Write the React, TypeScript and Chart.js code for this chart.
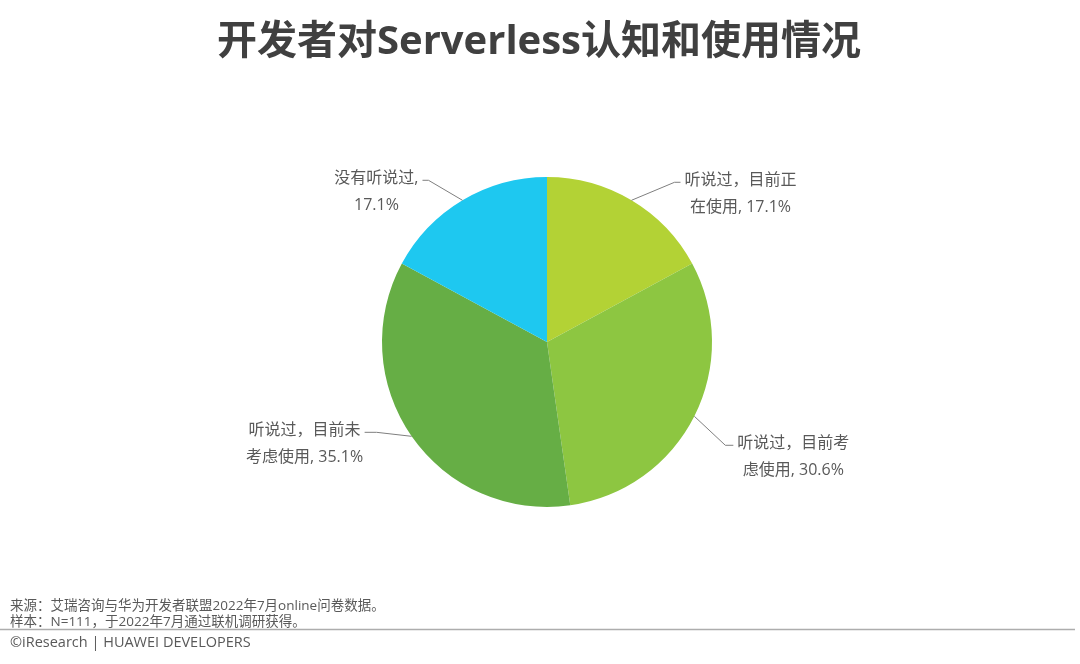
import React, { useEffect, useRef } from "react";
import { Chart, registerables } from "chart.js";

Chart.register(...registerables);

const titleText = "开发者对Serverless认知和使用情况";
const categories = ["听说过，目前正在使用", "听说过，目前考虑使用", "听说过，目前未考虑使用", "没有听说过"];
const values = [17.1, 30.6, 35.1, 17.1];
const colors = ["#B3D235", "#8DC641", "#66AE45", "#1EC8F0"];
const labelFirstLines = ["听说过，目前正", "听说过，目前考", "听说过，目前未", "没有听说过,"];
const labelSecondPrefixes = ["在使用, ", "虑使用, ", "考虑使用, ", ""];
const footerLines = [
  "来源：艾瑞咨询与华为开发者联盟2022年7月online问卷数据。",
  "样本：N=111，于2022年7月通过联机调研获得。",
];
const copyrightText = "©iResearch | HUAWEI DEVELOPERS";

// leader-line layout (offsets from the slice edge)
const labelLayout = [
  { dx: 43, dy: -18, run: 6, side: 1 },
  { dx: 31, dy: 29, run: 8, side: 1 },
  { dx: -35, dy: -4, run: 12, side: -1 },
  { dx: -34, dy: -20, run: 6, side: -1 },
];

const FONT = "'Open Sans', 'Noto Sans CJK SC', sans-serif";

const decorPlugin = {
  id: "decor",
  afterDatasetsDraw(chart: any) {
    const ctx = chart.ctx as CanvasRenderingContext2D;
    const meta = chart.getDatasetMeta(0);
    ctx.save();
    // title
    ctx.fillStyle = "#404040";
    ctx.font = `bold 40px ${FONT}`;
    ctx.textAlign = "center";
    ctx.textBaseline = "middle";
    ctx.fillText(titleText, 539, 43);

    // labels
    meta.data.forEach((arc: any, i: number) => {
      const p = arc.getProps(["x", "y", "startAngle", "endAngle", "outerRadius"], true);
      const mid = (p.startAngle + p.endAngle) / 2;
      const ex = p.x + Math.cos(mid) * p.outerRadius;
      const ey = p.y + Math.sin(mid) * p.outerRadius;
      const L = labelLayout[i];
      const bx = ex + L.dx;
      const by = ey + L.dy;
      const hx = bx + L.side * L.run;
      ctx.strokeStyle = "#7F7F7F";
      ctx.lineWidth = 1;
      ctx.beginPath();
      ctx.moveTo(ex, ey);
      ctx.lineTo(bx, by);
      ctx.lineTo(hx, by);
      ctx.stroke();

      ctx.font = `16px ${FONT}`;
      ctx.fillStyle = "#595959";
      ctx.textBaseline = "middle";
      ctx.textAlign = "center";
      const l1 = labelFirstLines[i];
      const l2 = labelSecondPrefixes[i] + values[i].toFixed(1) + "%";
      const w1 = ctx.measureText(l1).width;
      const cx = L.side > 0 ? hx + 4 + w1 / 2 : hx - 4 - w1 / 2;
      ctx.fillText(l1, cx, by - 2);
      ctx.fillText(l2, cx, by + 25);
    });

    // footer
    ctx.textAlign = "left";
    ctx.textBaseline = "middle";
    ctx.font = `13.5px ${FONT}`;
    ctx.fillStyle = "#595959";
    ctx.fillText(footerLines[0], 10, 606);
    ctx.fillText(footerLines[1], 10, 622);
    ctx.strokeStyle = "#ADADAD";
    ctx.lineWidth = 1.5;
    ctx.beginPath();
    ctx.moveTo(0, 629.5);
    ctx.lineTo(1075, 629.5);
    ctx.stroke();
    ctx.font = `14.5px ${FONT}`;
    ctx.fillText(copyrightText, 10, 643);
    ctx.restore();
  },
};

export default function App() {
  const ref = useRef<HTMLCanvasElement>(null);
  useEffect(() => {
    if (!ref.current) return;
    const chart = new Chart(ref.current, {
      type: "pie",
      data: {
        labels: categories,
        datasets: [
          {
            data: values,
            backgroundColor: colors,
            borderWidth: 0,
          },
        ],
      },
      options: {
        responsive: false,
        animation: false,
        layout: { padding: { left: 382, right: 368, top: 177, bottom: 157 } },
        plugins: {
          legend: { display: false },
          tooltip: { enabled: false },
          title: { display: false },
        },
      },
      plugins: [decorPlugin],
    });
    return () => chart.destroy();
  }, []);
  return (
    <div style={{ position: "fixed", left: 0, top: 0, width: 1080, height: 664, background: "#fff" }}>
      <canvas ref={ref} width={1080} height={664} />
    </div>
  );
}
